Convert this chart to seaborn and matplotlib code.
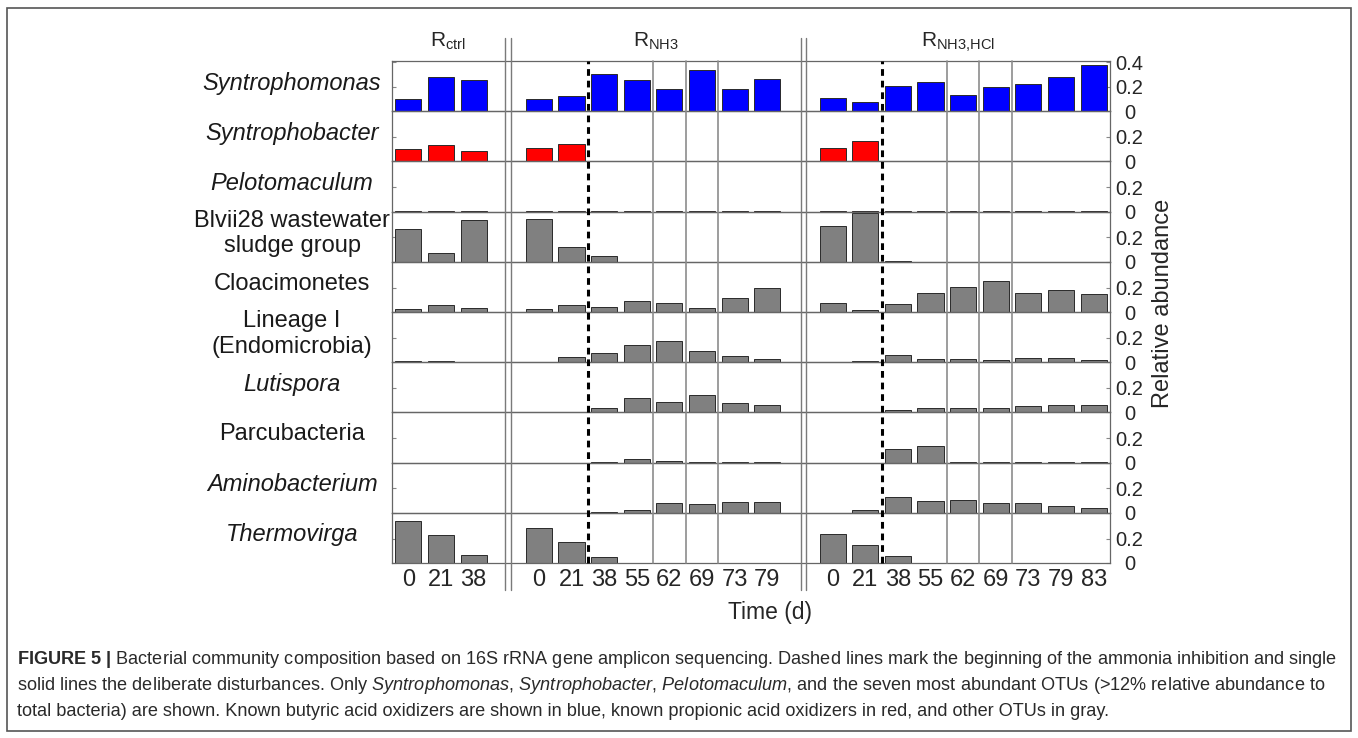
import seaborn as sns
import matplotlib.pyplot as plt
import pandas as pd
import numpy as np
from matplotlib.patches import Rectangle
from matplotlib.lines import Line2D
from matplotlib.transforms import blended_transform_factory

# Sampling days per reactor
reactors = ['ctrl', 'NH3', 'NH3,HCl']
days_ctrl = [0, 21, 38]
days_nh3 = [0, 21, 38, 55, 62, 69, 73, 79]
days_hcl = [0, 21, 38, 55, 62, 69, 73, 79, 83]

taxa = ['Syntrophomonas', 'Syntrophobacter', 'Pelotomaculum',
        'Blvii28 wastewater\nsludge group', 'Cloacimonetes',
        'Lineage I\n(Endomicrobia)', 'Lutispora', 'Parcubacteria',
        'Aminobacterium', 'Thermovirga']
italic = [True, True, True, False, False, False, True, False, True, True]
function = ['butyrate', 'propionate', 'propionate', 'other', 'other',
            'other', 'other', 'other', 'other', 'other']

# Relative abundance, one row per taxon
abund_ctrl = [
    [0.097, 0.278, 0.257],
    [0.100, 0.135, 0.084],
    [0.005, 0.003, 0.003],
    [0.270, 0.070, 0.345],
    [0.022, 0.060, 0.032],
    [0.013, 0.008, 0.005],
    [0.002, 0.002, 0.002],
    [0.000, 0.000, 0.000],
    [0.002, 0.002, 0.002],
    [0.346, 0.230, 0.068],
]
abund_nh3 = [
    [0.103, 0.122, 0.303, 0.251, 0.184, 0.340, 0.184, 0.260],
    [0.110, 0.146, 0.005, 0.000, 0.000, 0.000, 0.000, 0.000],
    [0.005, 0.003, 0.003, 0.003, 0.003, 0.003, 0.003, 0.003],
    [0.350, 0.124, 0.047, 0.000, 0.000, 0.000, 0.000, 0.000],
    [0.022, 0.054, 0.043, 0.086, 0.073, 0.032, 0.116, 0.200],
    [0.005, 0.046, 0.076, 0.138, 0.170, 0.089, 0.054, 0.024],
    [0.002, 0.002, 0.038, 0.120, 0.086, 0.140, 0.073, 0.060],
    [0.000, 0.000, 0.002, 0.027, 0.013, 0.002, 0.002, 0.002],
    [0.002, 0.002, 0.010, 0.024, 0.078, 0.073, 0.086, 0.086],
    [0.286, 0.170, 0.051, 0.002, 0.003, 0.002, 0.003, 0.003],
]
abund_hcl = [
    [0.105, 0.078, 0.205, 0.240, 0.130, 0.197, 0.220, 0.278, 0.380],
    [0.110, 0.165, 0.005, 0.000, 0.000, 0.000, 0.000, 0.000, 0.000],
    [0.003, 0.003, 0.003, 0.003, 0.004, 0.003, 0.003, 0.003, 0.003],
    [0.290, 0.400, 0.005, 0.000, 0.000, 0.000, 0.000, 0.000, 0.000],
    [0.076, 0.016, 0.065, 0.157, 0.208, 0.250, 0.157, 0.176, 0.146],
    [0.005, 0.013, 0.060, 0.024, 0.030, 0.019, 0.035, 0.035, 0.016],
    [0.002, 0.003, 0.016, 0.035, 0.038, 0.035, 0.054, 0.062, 0.057],
    [0.000, 0.000, 0.108, 0.132, 0.008, 0.003, 0.003, 0.002, 0.002],
    [0.002, 0.019, 0.127, 0.097, 0.108, 0.081, 0.081, 0.054, 0.040],
    [0.240, 0.151, 0.057, 0.002, 0.002, 0.002, 0.002, 0.002, 0.002],
]

# layout: each reactor occupies a block of slots on a shared x axis
slot_offset = {'ctrl': 0, 'NH3': 4, 'NH3,HCl': 13}
n_slots = 22
days = {'ctrl': days_ctrl, 'NH3': days_nh3, 'NH3,HCl': days_hcl}
abund = {'ctrl': abund_ctrl, 'NH3': abund_nh3, 'NH3,HCl': abund_hcl}

rows = []
for r in reactors:
    for i, taxon in enumerate(taxa):
        for j, d in enumerate(days[r]):
            rows.append({'reactor': r, 'taxon': taxon, 'day': d,
                         'pos': slot_offset[r] + j + 0.5,
                         'value': abund[r][i][j]})
df = pd.DataFrame(rows)

colors = {'butyrate': '#0000ff', 'propionate': '#ff0000', 'other': '#808080'}

sns.set_style('white')
plt.rcParams['font.family'] = ['Liberation Sans', 'DejaVu Sans']
plt.rcParams['mathtext.fontset'] = 'custom'
plt.rcParams['mathtext.rm'] = 'Liberation Sans'
plt.rcParams['mathtext.it'] = 'Liberation Sans:italic'
plt.rcParams['mathtext.bf'] = 'Liberation Sans:bold'
plt.rcParams['mathtext.default'] = 'regular'

W, H = 1358, 738
fig = plt.figure(figsize=(W / 100, H / 100), dpi=100)
fig.patch.set_facecolor('white')

left, right = 392 / W, 1110 / W
top, bottom = 1 - 61 / H, 1 - 563 / H
row_h = (top - bottom) / len(taxa)

axes = []
for i, taxon in enumerate(taxa):
    ax = fig.add_axes([left, top - (i + 1) * row_h, right - left, row_h])
    sub = df[df.taxon == taxon]
    sns.barplot(data=sub, x='pos', y='value', native_scale=True,
                color=colors[function[i]], saturation=1, width=0.8,
                edgecolor='#2a2a2a', linewidth=0.7, errorbar=None, ax=ax)
    ax.set_xlim(0, n_slots)
    ax.set_ylim(0, 0.41)
    ax.set_xlabel('')
    ax.set_ylabel('')
    yt = [0, 0.2, 0.4] if i == 0 else [0, 0.2]
    ax.set_yticks(yt)
    ax.set_yticklabels(['0' if v == 0 else f'{v:.1f}' for v in yt])
    ax.yaxis.set_ticks_position('both')
    ax.tick_params(axis='y', direction='in', length=3, color='#888888',
                   labelleft=False, labelright=True, labelsize=14.5, pad=14)
    for lab in ax.get_yticklabels():
        lab.set_horizontalalignment('center')
    pos = sorted(sub['pos'].unique())
    ax.set_xticks(pos)
    if i == len(taxa) - 1:
        ax.set_xticklabels([str(d) for r in reactors for d in days[r]])
        ax.tick_params(axis='x', direction='in', length=3, color='#888888',
                       labelsize=17, pad=4)
    else:
        ax.set_xticklabels([])
        ax.tick_params(axis='x', direction='in', length=3, color='#888888')
    for s in ax.spines.values():
        s.set_color('#666666')
        s.set_linewidth(0.9)
    ax.patch.set_alpha(0)
    fig.text(292 / W, top - (i + 0.5) * row_h + 3 / H, taxon,
             ha='center', va='center', fontsize=17,
             style='italic' if italic[i] else 'normal', color='#1a1a1a')
    axes.append(ax)

# vertical markers across all rows
tr = blended_transform_factory(axes[0].transData, fig.transFigure)
for x in [6, 15]:
    fig.add_artist(Line2D([x, x], [bottom, top], transform=tr, color='black',
                          lw=2.2, linestyle=(0, (2.2, 1.6)), zorder=5))
for x in [8, 9, 10, 17, 18, 19]:
    fig.add_artist(Line2D([x, x], [bottom, top], transform=tr,
                          color='#8c8c8c', lw=1.2, zorder=4))
for x in [3.45, 3.64, 12.53, 12.68]:
    fig.add_artist(Line2D([x, x], [1 - 590 / H, 1 - 38 / H], transform=tr,
                          color='#7a7a7a', lw=1.0, zorder=4))

# reactor titles
fig.text(448 / W, 1 - 47 / H, r'R$_{ctrl}$', ha='center', va='baseline',
         fontsize=15)
fig.text(656 / W, 1 - 47 / H, r'R$_{NH3}$', ha='center', va='baseline',
         fontsize=15)
fig.text(958 / W, 1 - 47 / H, r'R$_{NH3{,}HCl}$', ha='center', va='baseline',
         fontsize=15)

fig.text(770 / W, 1 - 612 / H, 'Time (d)', ha='center', va='center',
         fontsize=16.5)
fig.text(1163 / W, 1 - 303 / H, 'Relative abundance', ha='center',
         va='center', rotation=90, fontsize=17)

# caption and frame
fig.add_artist(Rectangle((7 / W, 1 - 731 / H), (1351 - 7) / W, (731 - 8) / H,
                         fill=False, edgecolor='#555555', lw=1.2,
                         transform=fig.transFigure))
caption = [
    r'$\bf{FIGURE\ 5\ |}$ Bacterial community composition based on 16S rRNA gene amplicon sequencing. '
    r'Dashed lines mark the beginning of the ammonia inhibition and single',
    r'solid lines the deliberate disturbances. Only $\mathit{Syntrophomonas}$, '
    r'$\mathit{Syntrophobacter}$, $\mathit{Pelotomaculum}$, and the seven most abundant OTUs '
    r'(>12% relative abundance to',
    r'total bacteria) are shown. Known butyric acid oxidizers are shown in blue, '
    r'known propionic acid oxidizers in red, and other OTUs in gray.',
]
for k, line in enumerate(caption):
    fig.text(17 / W, 1 - (660 + 26 * k) / H, line, ha='left', va='center',
             fontsize=13.1, color='#2a2a2a')

fig.savefig('out.png', dpi=100, facecolor='white')
